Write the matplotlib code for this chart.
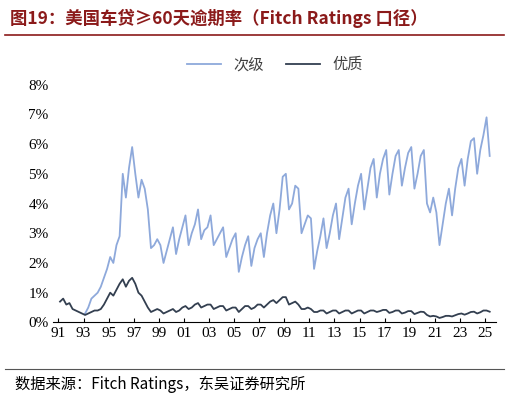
import matplotlib
matplotlib.use("Agg")
import matplotlib.pyplot as plt
import numpy as np

# quarterly readings, Q1..Q4
sub_start = 1993
subprime = [
    0.3, 0.5, 0.8, 0.9,  1.0, 1.2, 1.5, 1.8,  2.2, 2.0, 2.6, 2.9,
    5.0, 4.2, 5.2, 5.9,  5.0, 4.2, 4.8, 4.5,  3.8, 2.5, 2.6, 2.8,
    2.6, 2.0, 2.4, 2.8,  3.2, 2.3, 2.8, 3.2,  3.6, 2.6, 3.0, 3.3,
    3.8, 2.8, 3.1, 3.2,  3.6, 2.6, 2.8, 3.0,  3.2, 2.2, 2.5, 2.8,
    3.0, 1.7, 2.2, 2.6,  2.9, 1.9, 2.5, 2.8,  3.0, 2.2, 3.0, 3.6,
    4.0, 3.0, 3.8, 4.9,  5.0, 3.8, 4.0, 4.6,  4.5, 3.0, 3.3, 3.6,
    3.5, 1.8, 2.4, 2.9,  3.5, 2.5, 3.0, 3.6,  4.0, 2.8, 3.5, 4.2,
    4.5, 3.3, 4.0, 4.6,  5.0, 3.8, 4.5, 5.2,  5.5, 4.2, 5.0, 5.5,
    5.8, 4.3, 5.0, 5.6,  5.8, 4.6, 5.2, 5.7,  5.9, 4.5, 5.0, 5.6,
    5.8, 4.0, 3.7, 4.2,  3.7, 2.6, 3.3, 4.0,  4.5, 3.6, 4.5, 5.2,
    5.5, 4.6, 5.5, 6.1,  6.2, 5.0, 5.8, 6.3,  6.9, 5.6,
]
prime_start = 1991
prime = [
    0.7, 0.8, 0.6, 0.65,  0.45, 0.4, 0.35, 0.3,  0.25, 0.3, 0.35, 0.4,
    0.4, 0.45, 0.6, 0.8,  1.0, 0.9, 1.1, 1.3,  1.45, 1.2, 1.4, 1.5,
    1.3, 1.0, 0.9, 0.7,  0.5, 0.35, 0.4, 0.45,  0.4, 0.3, 0.35, 0.4,
    0.45, 0.35, 0.4, 0.5,  0.55, 0.45, 0.5, 0.6,  0.65, 0.5, 0.55, 0.6,
    0.6, 0.45, 0.5, 0.55,  0.55, 0.4, 0.45, 0.5,  0.5, 0.35, 0.45, 0.55,
    0.55, 0.45, 0.5, 0.6,  0.6, 0.5, 0.6, 0.7,  0.75, 0.65, 0.75, 0.85,
    0.85, 0.6, 0.65, 0.7,  0.6, 0.45, 0.45, 0.5,  0.45, 0.35, 0.35, 0.4,
    0.4, 0.3, 0.35, 0.4,  0.4, 0.3, 0.35, 0.4,  0.4, 0.3, 0.35, 0.4,
    0.4, 0.3, 0.35, 0.4,  0.4, 0.35, 0.38, 0.42,  0.42, 0.32, 0.35, 0.4,
    0.4, 0.3, 0.33, 0.38,  0.38, 0.28, 0.32, 0.36,  0.35, 0.25, 0.2, 0.22,
    0.2, 0.15, 0.18, 0.22,  0.22, 0.2, 0.24, 0.28,  0.3, 0.26, 0.3, 0.35,
    0.36, 0.3, 0.34, 0.4,  0.4, 0.36,
]
tick_years = list(range(1991, 2026, 2))

sub_x = sub_start + 0.125 + np.arange(len(subprime)) * 0.25
prime_x = prime_start + 0.125 + np.arange(len(prime)) * 0.25

plt.rcParams['font.family'] = ['Liberation Serif', 'Noto Serif CJK SC', 'Noto Sans CJK SC']

fig = plt.figure(figsize=(5.09, 4.03), dpi=100)
ax = fig.add_axes([0.105, 0.2, 0.87, 0.59])

ax.plot(sub_x, subprime, color="#8EA9DB", lw=1.3, label="次级")
ax.plot(prime_x, prime, color="#333F50", lw=1.3, label="优质")

ax.set_xlim(1990.6, 2025.9)
ax.set_ylim(0, 8)
ax.set_yticks(range(0, 9))
ax.set_yticklabels([f"{v}%" for v in range(0, 9)], fontsize=11)
ax.set_xticks(tick_years)
ax.set_xticklabels([f"{y % 100:02d}" for y in tick_years], fontsize=11)
for s in ["top", "right", "left"]:
    ax.spines[s].set_visible(False)
ax.tick_params(axis="y", length=0)
ax.tick_params(axis="x", direction="in", length=3)

leg = ax.legend(loc="lower center", bbox_to_anchor=(0.5, 0.99), ncol=2, frameon=False,
                handlelength=2.2, columnspacing=1.5,
                prop={'family': ['Noto Sans CJK SC'], 'size': 11})
for t in leg.get_texts():
    t.set_color("#404040")

fig.text(0.02, 0.955, "图19：美国车贷≥60天逾期率（Fitch Ratings 口径）",
         fontsize=12.5, fontweight="bold", color="#8B1A1A", va="center",
         family=['Noto Sans CJK SC', 'DejaVu Sans'])
fig.add_artist(plt.Line2D([0.01, 0.99], [0.912, 0.912], color="#8B1A1A", lw=1.2))
fig.add_artist(plt.Line2D([0.01, 0.99], [0.085, 0.085], color="#555555", lw=0.8))
fig.text(0.03, 0.045, "数据来源：Fitch Ratings，东吴证券研究所", fontsize=11,
         va="center", family=['Noto Sans CJK SC', 'DejaVu Sans'])

fig.savefig("out.png", dpi=100)
